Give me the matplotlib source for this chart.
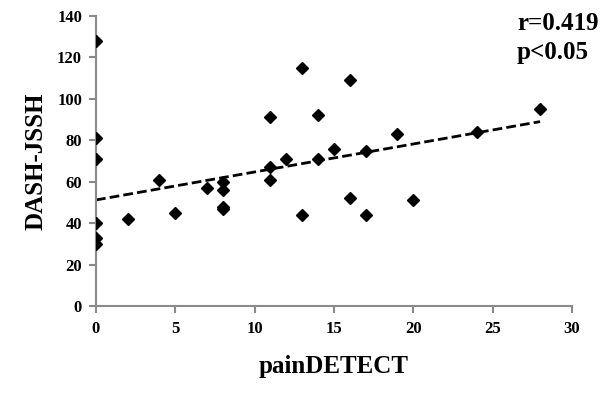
import matplotlib
matplotlib.use("Agg")
import matplotlib.pyplot as plt
import numpy as np

plt.rcParams['font.family'] = ['Liberation Serif', 'DejaVu Serif']

pain_detect = [0, 0, 0, 0, 0, 0, 2, 4, 5, 7, 8, 8, 8, 8, 11, 11, 11, 12, 13, 13,
               14, 14, 15, 16, 16, 17, 17, 19, 20, 24, 28]
dash_jssh = [128, 81, 71, 40, 33, 30, 42, 61, 45, 57, 60, 56, 48, 47, 91, 67, 61, 71, 115, 44,
             92, 71, 76, 109, 52, 75, 44, 83, 51, 84, 95]
# trend line as drawn in the reference (value at x=0 and x=28)
trend_x = [0, 28]
trend_y = [51.2, 89.0]
x_ticks = [0, 5, 10, 15, 20, 25, 30]
y_ticks = [0, 20, 40, 60, 80, 100, 120, 140]
annot_lines = ["r=0.419", "p<0.05"]

fig = plt.figure(figsize=(6, 3.98), dpi=100)
ax = fig.add_axes([0.16, 0.231, 0.793, 0.729])

ax.plot(trend_x, trend_y, color='black', lw=2, ls=(0, (3.5, 1.5)), zorder=2)
ax.plot(pain_detect, dash_jssh, ls='none', marker='D', ms=6.5, color='black', zorder=3)

ax.set_xlim(0, 30)
ax.set_ylim(0, 140)
ax.set_xticks(x_ticks)
ax.set_yticks(y_ticks)
for s in ['top', 'right']:
    ax.spines[s].set_visible(False)
for s in ['left', 'bottom']:
    ax.spines[s].set_color('#8a8a8a')
    ax.spines[s].set_linewidth(1.5)
ax.tick_params(axis='both', colors='#8a8a8a', length=5, width=1.5, direction='out',
               labelcolor='black', labelsize=12)
for lab in ax.get_xticklabels() + ax.get_yticklabels():
    lab.set_fontweight('bold')
ax.tick_params(axis='x', pad=6)
ax.tick_params(axis='y', pad=5)

ax.set_xlabel('painDETECT', fontsize=18, fontweight='bold', labelpad=13)
ax.set_ylabel('DASH-JSSH', fontsize=18, fontweight='bold', labelpad=7)

fig.text(517 / 600, 1 - 24 / 398, annot_lines[0], fontsize=18, fontweight='bold', va='center', ha='left')
fig.text(517 / 600, 1 - 53 / 398, annot_lines[1], fontsize=18, fontweight='bold', va='center', ha='left')

fig.savefig('out.png', dpi=100)
